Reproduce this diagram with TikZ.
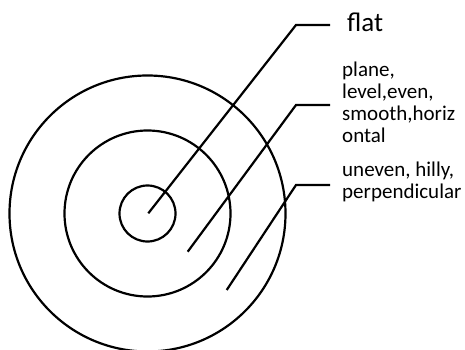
\documentclass[tikz,border=0pt]{standalone}
\usepackage{fontspec}
\setmainfont{Carlito}
\begin{document}
\begin{tikzpicture}[x=1pt,y=-1pt,
  ring/.style={circle,draw,line width=2.2pt,inner sep=0pt,minimum size=#1},
  lead/.style={line width=2.2pt},
  lbl/.style={anchor=base west,inner sep=0pt,align=left,font=\fontsize{21}{21.8}\selectfont}]
\useasboundingbox (0,0) rectangle (465,350);
\node[ring=276pt] (outer) at (147.5,213.5) {};
\node[ring=166pt] (middle) at (147.5,213.5) {};
\node[ring=56pt] (inner) at (147.5,213.5) {};
\coordinate (s1) at (148.3,213.3);
\coordinate (b1) at (296,25);
\coordinate (e1) at (330,25);
\coordinate (s2) at (187.7,251.7);
\coordinate (b2) at (296,105);
\coordinate (e2) at (330,105);
\coordinate (s3) at (226.7,290);
\coordinate (b3) at (296,185);
\coordinate (e3) at (330,185);
\node[anchor=base west,inner sep=0pt,font=\fontsize{27}{30}\selectfont] (flat) at (347,32) {flat};
\node[lbl] (plane) at (342,142.3) {plane,\\level,even,\\smooth,horiz\\ontal};
\node[lbl] (uneven) at (342,198.5) {uneven, hilly,\\perpendicular};
\draw[lead] (s1) -- (b1) -- (e1);
\draw[lead] (s2) -- (b2) -- (e2);
\draw[lead] (s3) -- (b3) -- (e3);
\end{tikzpicture}
\end{document}
